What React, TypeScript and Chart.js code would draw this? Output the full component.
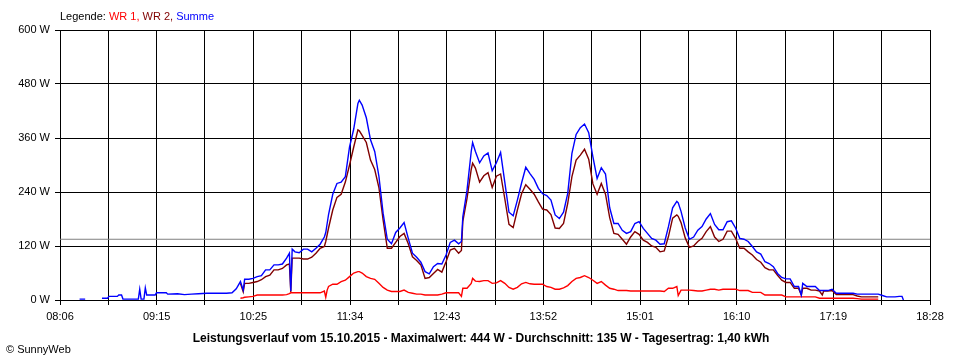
import React, { useEffect, useRef } from "react";
import { Chart, registerables } from "chart.js";

Chart.register(...registerables);

// ---- Texts ----
const legendPrefix = "Legende: ";
const seriesNames = ["WR 1", "WR 2", "Summe"];
const titleText =
  "Leistungsverlauf vom 15.10.2015 - Maximalwert: 444 W - Durchschnitt: 135 W - Tagesertrag: 1,40 kWh";
const copyrightText = "\u00A9 SunnyWeb";

// ---- Axes ----
const xTickLabels = ["08:06", "09:15", "10:25", "11:34", "12:43", "13:52", "15:01", "16:10", "17:19", "18:28"];
const xStartMinute = 486; // 08:06
const xEndMinute = 1108; // 18:28
const xGridDivisions = 18;
const yMax = 600;
const yStep = 120;
const averageWatt = 135;

// ---- Data (minutes since midnight, Watt) ----
// Morning: only the sum curve is present
const earlyTimes = [500, 504, 505, 515, 516, 520, 521, 527, 528, 530, 531, 542, 543, 544, 546, 547, 548, 554, 555, 562, 563, 570, 575, 580, 585, 591, 600, 605, 609, 612];
const earlySum = [2, 2, null, null, 4, 4, 8, 8, 11, 11, 2, 2, 24, 2, 2, 27, 11, 11, 16, 16, 13, 14, 12, 13, 14, 15, 15, 15, 16, 25];

const mainTimes = [
  615, 617, 618, 621, 624, 627, 630, 633, 636, 639, 642, 645, 648, 650, 651, 652, 654, 657, 660, 663,
  666, 669, 672, 675, 676, 677, 678, 681, 684, 687, 690, 693, 696, 699, 700, 702, 705, 708, 711, 714,
  717, 720, 723, 726, 729, 732, 735, 738, 741, 744, 747, 750, 753, 756, 759, 762, 765, 768, 771, 773,
  774, 777, 780, 781, 783, 786, 789, 792, 795, 798, 801, 804, 807, 810, 813, 816, 819, 822, 825, 828,
  831, 834, 837, 840, 843, 846, 849, 852, 855, 858, 861, 864, 867, 870, 873, 876, 879, 882, 885, 888,
  891, 894, 897, 900, 903, 906, 909, 912, 915, 918, 921, 924, 927, 928, 930, 933, 936, 939, 942, 945,
  948, 951, 954, 957, 960, 963, 966, 969, 972, 975, 978, 981, 984, 987, 990, 993, 996, 999, 1002, 1005,
  1008, 1011, 1014, 1016, 1017, 1020, 1023, 1026, 1029, 1031, 1032, 1035, 1038, 1041, 1044, 1047, 1050, 1053, 1056, 1059,
  1062, 1065, 1068, 1071, 1074, 1077, 1080, 1083, 1086, 1088, 1089,
];

const sumValues = [
  41, 22, 46, 46, 48, 52, 54, 67, 67, 78, 78, 80, 93, 104, 20, 113, 107, 105, 113, 113,
  107, 115, 124, 140, 150, 170, 190, 235, 259, 262, 274, 340, 380, 437, 444, 433, 405, 356, 330, 275,
  193, 135, 125, 150, 160, 172, 137, 104, 95, 84, 63, 58, 74, 81, 80, 100, 128, 133, 125, 130,
  185, 244, 330, 350, 330, 305, 320, 327, 287, 305, 328, 262, 195, 187, 222, 260, 295, 281, 268, 248,
  236, 232, 222, 189, 181, 195, 237, 326, 368, 383, 391, 372, 318, 270, 294, 280, 205, 170, 170, 155,
  148, 152, 170, 174, 159, 148, 137, 133, 124, 125, 163, 205, 219, 216, 197, 160, 135, 140, 155, 163,
  180, 192, 168, 156, 156, 174, 176, 160, 137, 135, 130, 119, 107, 102, 85, 81, 74, 59, 50, 47,
  47, 30, 30, 11, 37, 30, 30, 30, 21, 21, 21, 21, 24, 15, 15, 15, 15, 15, 13, 13,
  13, 13, 13, 13, 10, 7, 7, 7, 8, 8, 0,
];

const wr2Values = [
  37, 18, 37, 37, 39, 41, 45, 52, 55, 67, 67, 70, 78, 80, 18, 93, 93, 93, 91, 91,
  95, 104, 115, 119, 130, 145, 160, 200, 228, 235, 262, 300, 340, 378, 376, 366, 350, 311, 290, 250,
  178, 115, 115, 128, 141, 148, 125, 96, 88, 78, 48, 50, 59, 68, 62, 85, 111, 115, 104, 110,
  175, 226, 290, 304, 293, 262, 276, 283, 250, 275, 280, 225, 168, 161, 200, 236, 256, 246, 235, 218,
  202, 200, 190, 160, 159, 170, 215, 274, 311, 322, 335, 313, 258, 235, 259, 235, 183, 148, 146, 135,
  124, 140, 152, 146, 133, 128, 120, 117, 107, 109, 141, 182, 189, 186, 172, 138, 117, 120, 130, 137,
  152, 163, 140, 130, 135, 153, 153, 137, 115, 115, 107, 100, 90, 84, 72, 67, 67, 55, 44, 39,
  39, 26, 26, 11, 26, 26, 22, 22, 20, 11, 20, 20, 21, 12, 12, 12, 12, 12, 9, 7,
  7, 7, 7, 7, null, null, null, null, null, null, null,
];

const wr1Values = [
  4, 5, 6, 7, 8, 11, 11, 11, 11, 11, 11, 11, 12, 14, 16, 16, 16, 16, 16, 16,
  16, 16, 16, 20, 6, 22, 30, 35, 35, 41, 44, 52, 60, 63, 63, 60, 52, 48, 46, 37,
  28, 22, 19, 19, 19, 22, 17, 15, 13, 13, 11, 11, 11, 11, 13, 16, 16, 16, 16, 8,
  26, 26, 37, 48, 42, 41, 43, 43, 37, 38, 43, 37, 28, 24, 28, 36, 39, 36, 35, 35,
  35, 30, 28, 24, 24, 27, 32, 41, 48, 50, 54, 50, 44, 37, 41, 33, 26, 24, 21, 21,
  21, 20, 20, 20, 20, 20, 20, 20, 20, 19, 26, 26, 30, 10, 22, 22, 22, 21, 20, 20,
  22, 24, 24, 22, 24, 24, 24, 24, 21, 21, 21, 17, 17, 17, 11, 11, 11, 11, 11, 7,
  7, 7, 7, 7, 7, 7, 7, 7, 4, 4, 4, 4, 4, 4, 4, 4, 4, 4, 3, 2,
  2, 2, 2, 2, null, null, null, null, null, null, null,
];

const colorWR1 = "#ff0000";
const colorWR2 = "#800000";
const colorSum = "#0000ff";
const colorAvg = "#808080";
const fontFamily = "'Liberation Sans', Arial, sans-serif";

function toPoints(times: number[], values: (number | null)[]) {
  return times.map((t, i) => ({ x: t, y: values[i] }));
}

const textPlugin = {
  id: "sunnyTexts",
  afterDraw(chart: any) {
    const ctx = chart.ctx as CanvasRenderingContext2D;
    ctx.save();
    ctx.textBaseline = "alphabetic";
    ctx.textAlign = "left";
    ctx.font = `11px ${fontFamily}`;
    let x = chart.chartArea.left;
    const ly = 20;
    const parts: [string, string][] = [
      [legendPrefix, "#000000"],
      [seriesNames[0] + ", ", colorWR1],
      [seriesNames[1] + ", ", colorWR2],
      [seriesNames[2], colorSum],
    ];
    for (const [t, c] of parts) {
      ctx.fillStyle = c;
      ctx.fillText(t, x, ly);
      x += ctx.measureText(t).width;
    }
    ctx.fillStyle = "#000000";
    ctx.font = `bold 12px ${fontFamily}`;
    ctx.textAlign = "center";
    ctx.fillText(titleText, chart.width / 2 + 1, 342);
    ctx.font = `11px ${fontFamily}`;
    ctx.textAlign = "left";
    ctx.fillText(copyrightText, 6, 353);
    ctx.restore();
  },
};

export default function App() {
  const canvasRef = useRef<HTMLCanvasElement>(null);

  useEffect(() => {
    document.body.style.margin = "0";
    const canvas = canvasRef.current;
    if (!canvas) return;
    Chart.defaults.font.family = fontFamily;
    Chart.defaults.font.size = 11;
    Chart.defaults.color = "#000000";

    const lineCommon = {
      pointRadius: 0,
      pointHoverRadius: 0,
      tension: 0,
      fill: false,
      spanGaps: false,
    };

    const chart = new Chart(canvas, {
      type: "line",
      data: {
        datasets: [
          {
            ...lineCommon,
            label: seriesNames[2],
            data: [...toPoints(earlyTimes, earlySum), ...toPoints(mainTimes, sumValues)],
            borderColor: colorSum,
            borderWidth: 1.4,
          },
          {
            ...lineCommon,
            label: seriesNames[1],
            data: toPoints(mainTimes, wr2Values),
            borderColor: colorWR2,
            borderWidth: 1.4,
          },
          {
            ...lineCommon,
            label: seriesNames[0],
            data: toPoints(mainTimes, wr1Values),
            borderColor: colorWR1,
            borderWidth: 1.4,
          },
          {
            ...lineCommon,
            label: "Durchschnitt",
            data: [
              { x: xStartMinute, y: averageWatt },
              { x: xEndMinute, y: averageWatt },
            ],
            borderColor: colorAvg,
            borderWidth: 1,
          },
        ] as any,
      },
      options: {
        animation: false,
        responsive: false,
        events: [],
        layout: { padding: { top: 30, right: 30, left: 0, bottom: 0 } },
        plugins: {
          legend: { display: false },
          tooltip: { enabled: false },
          title: { display: false },
        },
        scales: {
          x: {
            type: "linear",
            min: xStartMinute,
            max: xEndMinute,
            afterBuildTicks: (axis: any) => {
              const step = (xEndMinute - xStartMinute) / xGridDivisions;
              axis.ticks = Array.from({ length: xGridDivisions + 1 }, (_, i) => ({
                value: xStartMinute + i * step,
              }));
            },
            afterFit: (axis: any) => {
              axis.height = 60;
            },
            ticks: {
              autoSkip: false,
              maxRotation: 0,
              minRotation: 0,
              padding: 5,
              color: "#000000",
              font: { family: fontFamily, size: 11 },
              callback: (_v: any, i: number) => (i % 2 === 0 ? xTickLabels[i / 2] : ""),
            },
            grid: {
              color: "#000000",
              tickColor: "#000000",
              tickLength: 5,
              lineWidth: 1,
            },
            border: { color: "#000000", width: 1 },
          },
          y: {
            type: "linear",
            min: 0,
            max: yMax,
            afterFit: (axis: any) => {
              axis.width = 60;
            },
            ticks: {
              stepSize: yStep,
              padding: 5,
              color: "#000000",
              font: { family: fontFamily, size: 11 },
              callback: (v: any) => `${v} W`,
            },
            grid: {
              color: "#000000",
              tickColor: "#000000",
              tickLength: 5,
              lineWidth: 1,
            },
            border: { color: "#000000", width: 1 },
          },
        },
      } as any,
      plugins: [textPlugin],
    });

    return () => chart.destroy();
  }, []);

  return (
    <div style={{ position: "absolute", left: 0, top: 0, width: 960, height: 360, background: "#ffffff" }}>
      <canvas ref={canvasRef} width={960} height={360} style={{ display: "block" }} />
    </div>
  );
}
